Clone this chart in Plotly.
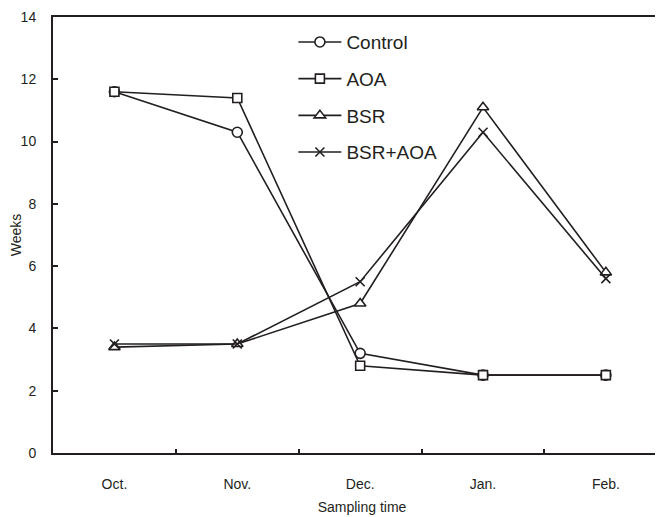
import plotly.graph_objects as go

months = ["Oct.", "Nov.", "Dec.", "Jan.", "Feb."]
control = [11.6, 10.3, 3.2, 2.5, 2.5]
aoa = [11.6, 11.4, 2.8, 2.5, 2.5]
bsr = [3.4, 3.5, 4.8, 11.1, 5.8]
bsr_aoa = [3.5, 3.5, 5.5, 10.3, 5.6]

INK = "#231f20"
FONT = "Liberation Sans, Arial, sans-serif"

series = [
    ("Control", control, "circle", 10),
    ("AOA", aoa, "square", 9),
    ("BSR", bsr, "triangle-up", 10),
    ("BSR+AOA", bsr_aoa, "x-thin", 9),
]

fig = go.Figure()
for name, vals, sym, size in series:
    fig.add_trace(go.Scatter(
        x=months, y=vals, name=name, mode="lines+markers",
        legendgroup=name,
        line=dict(color=INK, width=1.6),
        marker=dict(symbol=sym, size=size, color="white",
                    line=dict(color=INK, width=1.6)),
    ))

fig.update_layout(
    width=663, height=517,
    margin=dict(l=45, r=0, t=9, b=72),
    paper_bgcolor="white", plot_bgcolor="white",
    font=dict(family=FONT, size=14, color=INK),
    showlegend=True,
    legend=dict(x=0.389, y=0.986, xanchor="left", yanchor="top",
                font=dict(size=19, color=INK), bgcolor="rgba(0,0,0,0)",
                itemwidth=43, tracegroupgap=9),
)
fig.update_xaxes(
    type="category", range=[-0.5, 4.53], showgrid=False, zeroline=False,
    automargin=False,
    showline=True, linecolor=INK, linewidth=2, mirror=True,
    ticks="inside", ticklen=4, tickwidth=1.5, tickcolor=INK, tickson="boundaries",
    ticklabelstandoff=17,
    title=dict(text="Sampling time", font=dict(size=14), standoff=11),
)
fig.update_yaxes(
    range=[0, 14], dtick=2, showgrid=False, zeroline=False,
    automargin=False,
    showline=True, linecolor=INK, linewidth=2,
    ticks="inside", ticklen=5, tickwidth=1.5, tickcolor=INK,
    ticklabelstandoff=12,
    title=dict(text="Weeks", font=dict(size=14), standoff=8),
)

fig.write_html("out.html")
